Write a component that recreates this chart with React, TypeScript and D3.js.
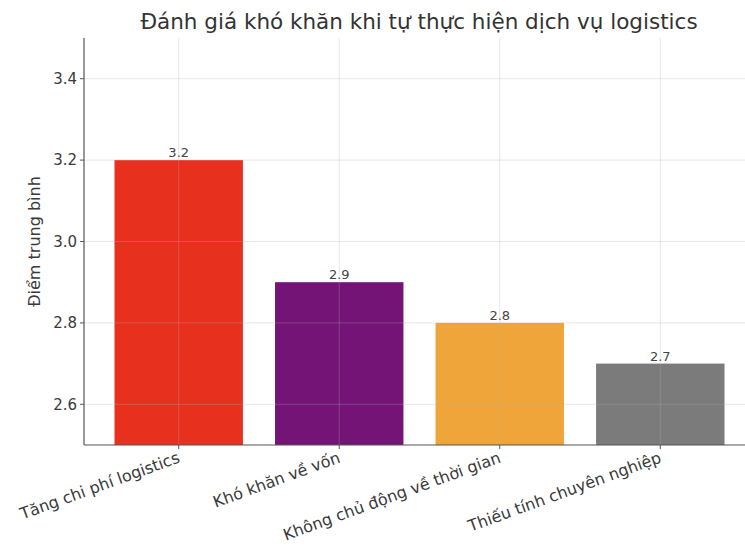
import React from "react";
import * as d3 from "d3";

const categories = [
  "Tăng chi phí logistics",
  "Khó khăn về vốn",
  "Không chủ động về thời gian",
  "Thiếu tính chuyên nghiệp",
];
const values = [3.2, 2.9, 2.8, 2.7];
const colors = ["#e8301f", "#741477", "#f0a53a", "#7b7b7b"];
const yTicks = [2.6, 2.8, 3.0, 3.2, 3.4];
const title = "Đánh giá khó khăn khi tự thực hiện dịch vụ logistics";
const yLabel = "Điểm trung bình";

const W = 745;
const H = 546;
const left = 84;
const right = 755;
const top = 38;
const bottom = 445;

export default function App() {
  const n = categories.length;
  const xlin = d3.scaleLinear().domain([-0.59, n - 1 + 0.59]).range([left, right]);
  const bw = xlin(0.8) - xlin(0);
  const y = d3.scaleLinear().domain([2.5, 3.5]).range([bottom, top]);
  const font = "'DejaVu Sans', sans-serif";
  const textColor = "#3a3a3a";
  return (
    <svg
      width={W}
      height={H}
      style={{ position: "absolute", left: 0, top: 0, background: "#fff" }}
      fontFamily={font}
    >
      <rect width={W} height={H} fill="#fff" />
      <text x={419} y={29} textAnchor="middle" fontSize={21.5} fill="#333">
        {title}
      </text>
      {categories.map((c, i) => (
        <g key={c}>
          <rect
            x={xlin(i) - bw / 2}
            y={y(values[i])}
            width={bw}
            height={bottom - y(values[i])}
            fill={colors[i]}
          />
          <text
            x={xlin(i)}
            y={y(values[i]) - 3}
            textAnchor="middle"
            fontSize={13}
            fill="#444"
          >
            {values[i].toFixed(1)}
          </text>
        </g>
      ))}
      {yTicks.map((t) => (
        <line
          key={"h" + t}
          x1={left}
          x2={W}
          y1={y(t)}
          y2={y(t)}
          stroke="#b0b0b0"
          strokeOpacity={0.3}
          strokeWidth={1}
        />
      ))}
      {categories.map((c, i) => (
        <line
          key={"v" + c}
          x1={xlin(i)}
          x2={xlin(i)}
          y1={top}
          y2={bottom}
          stroke="#b0b0b0"
          strokeOpacity={0.3}
          strokeWidth={1}
        />
      ))}
      <line x1={left} x2={left} y1={top} y2={bottom} stroke="#555" strokeWidth={1.2} />
      <line x1={left} x2={W} y1={bottom} y2={bottom} stroke="#555" strokeWidth={1.2} />
      {yTicks.map((t) => (
        <g key={"t" + t}>
          <line x1={left - 4} x2={left} y1={y(t)} y2={y(t)} stroke="#555" />
          <text
            x={left - 7}
            y={y(t)}
            dy="0.35em"
            textAnchor="end"
            fontSize={15}
            fill={textColor}
          >
            {t.toFixed(1)}
          </text>
        </g>
      ))}
      {categories.map((c, i) => (
        <g key={"xt" + c}>
          <line x1={xlin(i)} x2={xlin(i)} y1={bottom} y2={bottom + 4} stroke="#555" />
          <text
            transform={`translate(${xlin(i) + 2},${bottom + 17}) rotate(-20)`}
            textAnchor="end"
            fontSize={16}
            fill={textColor}
          >
            {c}
          </text>
        </g>
      ))}
      <text
        transform={`translate(40,${(top + bottom) / 2}) rotate(-90)`}
        textAnchor="middle"
        fontSize={16}
        fill={textColor}
      >
        {yLabel}
      </text>
    </svg>
  );
}
